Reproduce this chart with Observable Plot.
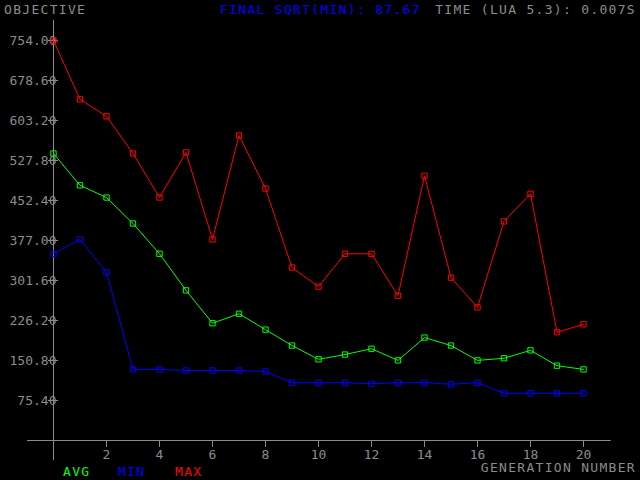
<!DOCTYPE html>
<html><head><meta charset="utf-8">
<script src="https://cdn.jsdelivr.net/npm/d3@7"></script>
<script src="https://cdn.jsdelivr.net/npm/@observablehq/plot@0.6"></script>
<style>body{margin:0;background:#000}</style>
</head><body><div id="c"></div>
<script>
const generations = d3.range(0, 21);
const maxVals = [754,643,611,541,458,543,379,575,475,326,290,352,352,273,499,307,251,413,465,204,219];
const avgVals = [541,481,458,409,352,283,221,239,209,179,153,162,173,151,194,179,151,155,170,141,134];
const minVals = [352,379,317,134,134,132,132,132,130,109,109,109,107,109,109,106,109,89,89,89,89];
const yTicks = [75.4,150.8,226.2,301.6,377.0,452.4,527.8,603.2,678.6,754.0];
const xTicks = [2,4,6,8,10,12,14,16,18,20];
const series = [
  {name:"AVG", vals:avgVals, color:"#00ff00"},
  {name:"MIN", vals:minVals, color:"#0000ff"},
  {name:"MAX", vals:maxVals, color:"#ff0000"}
];
const rows = series.flatMap(s => s.vals.map((v,i)=>({g:generations[i], v, s:s.name, c:s.color})));
const grey = "#8c8c8c";
const font = "DejaVu Sans Mono, monospace";
const marks = [
  Plot.ruleY([0], {x1:-0.98, x2:21.05, stroke:grey}),
  Plot.ruleX([0], {y1:-38, y2:792, stroke:grey}),
  Plot.ruleY(yTicks, {x1:-0.19, x2:0.19, stroke:grey}),
  Plot.ruleX(xTicks, {y1:0, y2:-13, stroke:grey}),
  Plot.text(yTicks, {x:0, y:d=>d, text:d=>d.toFixed(2), textAnchor:"end", dx:3, fill:grey}),
  Plot.text(xTicks, {x:d=>d, y:0, text:d=>String(d), dy:14, fill:grey}),
];
for (const s of series) {
  const d = rows.filter(r=>r.s===s.name);
  marks.push(Plot.line(d, {x:"g", y:"v", stroke:s.color, strokeWidth:1}));
  marks.push(Plot.dot(d, {x:"g", y:"v", symbol:"square", r:3, stroke:s.color, fill:"none", strokeWidth:1}));
}
const chart = Plot.plot({
  width:640, height:480, marginLeft:53, marginRight:57, marginTop:40, marginBottom:40,
  x:{domain:[0,20], axis:null}, y:{domain:[0,754], axis:null},
  style:{background:"#000", fontFamily:font, fontSize:"13px", overflow:"visible"},
  marks
});
const svg = d3.select(chart);
const txt = (x,y,t,c,anchor="start") => svg.append("text").attr("x",x).attr("y",y).attr("fill",c)
  .attr("text-anchor",anchor).attr("font-family",font).attr("font-size",13).attr("letter-spacing",1.3).text(t);
txt(4,14,"OBJECTIVE",grey);
txt(220,14,"FINAL SQRT(MIN): 87.67","#0000ff");
txt(636,14,"TIME (LUA 5.3): 0.007S",grey,"end");
txt(636,472,"GENERATION NUMBER",grey,"end");
txt(63,476,"AVG","#00ff00");
txt(118,476,"MIN","#0000ff");
txt(175,476,"MAX","#ff0000");
document.getElementById("c").appendChild(chart);
</script></body></html>
